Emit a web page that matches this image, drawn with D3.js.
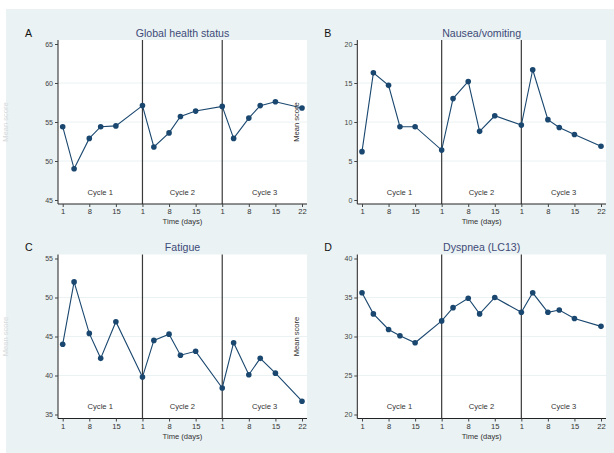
<!DOCTYPE html>
<html>
<head>
<meta charset="utf-8">
<script src="https://cdn.jsdelivr.net/npm/d3@7"></script>
<style>
  html, body { margin: 0; padding: 0; background: #ffffff; }
  svg { display: block; font-family: "Liberation Sans", Arial, sans-serif; }
</style>
</head>
<body>
<svg id="chart" width="614" height="453"></svg>
<script>
// Assessment schedule: treatment cycle and day within cycle for each visit
const cycles = [1, 1, 1, 1, 1, 2, 2, 2, 2, 2, 3, 3, 3, 3, 3, 3];
const days   = [1, 4, 8, 11, 15, 1, 4, 8, 11, 15, 1, 4, 8, 11, 15, 22];

// Mean scores per scale
const globalHealth = [54.4, 49.0, 52.9, 54.4, 54.5, 57.1, 51.8, 53.6, 55.7, 56.4, 57.0, 52.9, 55.5, 57.1, 57.6, 56.8];
const nausea       = [6.2, 16.3, 14.7, 9.4, 9.4, 6.4, 13.0, 15.2, 8.8, 10.8, 9.6, 16.7, 10.3, 9.3, 8.4, 6.9];
const fatigue      = [44.0, 52.0, 45.4, 42.2, 46.9, 39.8, 44.5, 45.3, 42.6, 43.1, 38.4, 44.2, 40.1, 42.2, 40.3, 36.7];
const dyspnea      = [35.6, 32.9, 30.9, 30.1, 29.2, 32.0, 33.7, 34.9, 32.9, 35.0, 33.1, 35.6, 33.1, 33.4, 32.3, 31.3];

// Axis ticks
const xTickCycles = [1, 1, 1, 2, 2, 2, 3, 3, 3, 3];
const xTickDays   = [1, 8, 15, 1, 8, 15, 1, 8, 15, 22];
const cycleNames  = ["Cycle 1", "Cycle 2", "Cycle 3"];

const panelLetters = ["A", "B", "C", "D"];
const panelTitles  = ["Global health status", "Nausea/vomiting", "Fatigue", "Dyspnea (LC13)"];
const panelSeries  = [globalHealth, nausea, fatigue, dyspnea];
const panelYDomains = [[45, 65], [0, 20], [35, 55], [20, 40]];
const yTickStep = 5;

const CYCLE_LEN = 21;
const pos = (c, d) => (c - 1) * CYCLE_LEN + (d - 1);

const BG = "#eaf2f3";
const NAVY = "#1a476f";

const svg = d3.select("#chart");
svg.append("rect").attr("x", 6).attr("y", 9).attr("width", 608).attr("height", 444).attr("fill", BG);

// Panel frames (plot region in pixels)
const frames = [
  { x0: 58,    x1: 307, y0: 40,    y1: 204 },
  { x0: 357.3, x1: 606, y0: 40,    y1: 204 },
  { x0: 58,    x1: 307, y0: 254.5, y1: 418.5 },
  { x0: 357.3, x1: 606, y0: 254.5, y1: 418.5 }
];

frames.forEach((f, i) => {
  const g = svg.append("g");
  const data = panelSeries[i].map((v, k) => ({ t: pos(cycles[k], days[k]), v }));

  const x = d3.scaleLinear().domain([0, pos(3, 22)]).range([f.x0 + 4.7, f.x1 - 5]);
  const y = d3.scaleLinear().domain(panelYDomains[i]).range([f.y1 - 4, f.y0 + 4]);

  // white plot region
  g.append("rect").attr("x", f.x0).attr("y", f.y0)
    .attr("width", f.x1 - f.x0).attr("height", f.y1 - f.y0).attr("fill", "#ffffff");

  const yTicks = d3.range(panelYDomains[i][0], panelYDomains[i][1] + 0.1, yTickStep);

  // horizontal grid
  g.selectAll(".grid").data(yTicks.slice(1, -1)).join("line")
    .attr("x1", f.x0).attr("x2", f.x1)
    .attr("y1", d => y(d)).attr("y2", d => y(d))
    .attr("stroke", BG).attr("stroke-width", 1);

  // cycle separators
  [pos(2, 1), pos(3, 1)].forEach(t => {
    g.append("line").attr("x1", x(t)).attr("x2", x(t))
      .attr("y1", f.y0).attr("y2", f.y1)
      .attr("stroke", "#3a3a3a").attr("stroke-width", 1.2);
  });

  // cycle labels, centred in each cycle band
  const bounds = [f.x0, x(pos(2, 1)), x(pos(3, 1)), f.x1];
  cycleNames.forEach((name, k) => {
    g.append("text").attr("x", (bounds[k] + bounds[k + 1]) / 2).attr("y", f.y1 - 9.5)
      .attr("text-anchor", "middle").attr("font-size", 7.6).attr("fill", "#333")
      .text(name);
  });

  // y axis
  const yAxis = d3.axisLeft(y).tickValues(yTicks).tickSize(3).tickPadding(2).tickFormat(d3.format("d"));
  const ya = g.append("g").attr("transform", `translate(${f.x0},0)`).call(yAxis);
  ya.select(".domain").attr("d", `M0,${f.y0}V${f.y1}`).attr("stroke", "#222");
  ya.selectAll(".tick line").attr("stroke", "#444");
  ya.selectAll(".tick text").attr("font-size", 7).attr("fill", "#444").attr("font-family", "Liberation Sans, Arial, sans-serif");

  // x axis
  const xTickPos = xTickDays.map((d, k) => pos(xTickCycles[k], d));
  const xAxis = d3.axisBottom(x).tickValues(xTickPos).tickSize(3).tickPadding(2)
    .tickFormat((d, k) => xTickDays[k]);
  const xa = g.append("g").attr("transform", `translate(0,${f.y1})`).call(xAxis);
  xa.select(".domain").attr("d", `M${f.x0},0H${f.x1}`).attr("stroke", "#222");
  xa.selectAll(".tick line").attr("stroke", "#444");
  xa.selectAll(".tick text").attr("font-size", 7.6).attr("fill", "#333").attr("font-family", "Liberation Sans, Arial, sans-serif");

  // x title
  g.append("text").attr("x", (f.x0 + f.x1) / 2).attr("y", f.y1 + 20)
    .attr("text-anchor", "middle").attr("font-size", 7.6).attr("fill", "#333")
    .text("Time (days)");

  // y title (the left column's title sits faded against the page edge)
  const leftCol = f.x0 < 100;
  const yTitleX = leftCol ? 8 : f.x0 - 58;
  g.append("text")
    .attr("transform", `translate(${yTitleX},${(f.y0 + f.y1) / 2}) rotate(-90)`)
    .attr("text-anchor", "middle").attr("font-size", 7.6)
    .attr("fill", leftCol ? "#d6dadc" : "#333")
    .text("Mean score");

  // panel title and letter
  g.append("text").attr("x", (f.x0 + f.x1) / 2).attr("y", f.y0 - 3.5)
    .attr("text-anchor", "middle").attr("font-size", 10.6).attr("fill", "#3e4a78")
    .text(panelTitles[i]);
  g.append("text").attr("x", f.x0 - 33).attr("y", f.y0 - 3.5)
    .attr("font-size", 10.6).attr("fill", "#111")
    .text(panelLetters[i]);

  // series line and markers
  const line = d3.line().x(d => x(d.t)).y(d => y(d.v));
  g.append("path").datum(data).attr("d", line)
    .attr("fill", "none").attr("stroke", NAVY).attr("stroke-width", 1.1);
  g.selectAll(".pt").data(data).join("circle")
    .attr("cx", d => x(d.t)).attr("cy", d => y(d.v)).attr("r", 2.8)
    .attr("fill", NAVY);
});
</script>
</body>
</html>
